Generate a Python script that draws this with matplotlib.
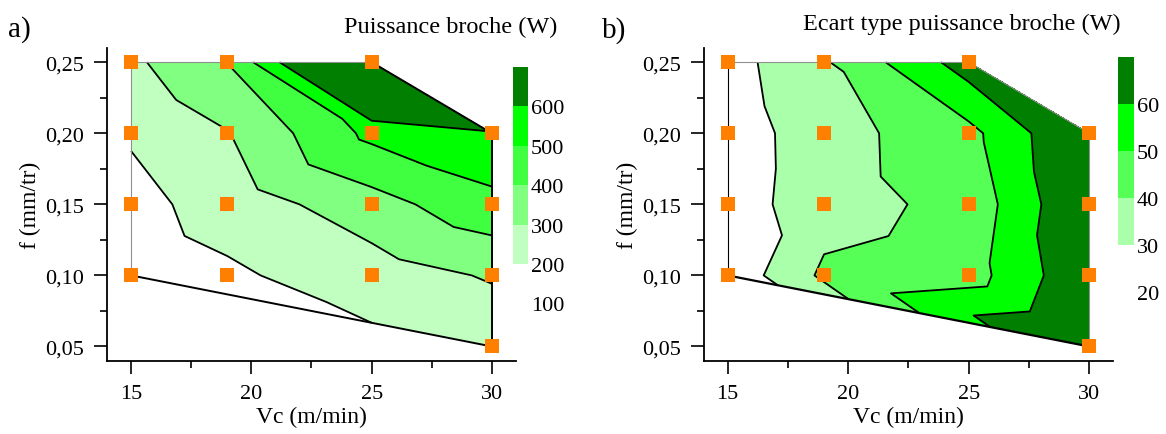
import matplotlib
matplotlib.use('Agg')
import matplotlib.pyplot as plt
import matplotlib.tri as mtri
from matplotlib.ticker import FuncFormatter, MultipleLocator

plt.rcParams['font.family'] = ['Liberation Serif', 'DejaVu Serif']
plt.rcParams['font.size'] = 16

# measurement points (Vc in m/min, f in mm/tr)
vc = [15, 15, 15, 15, 19, 19, 19, 19, 25, 25, 25, 25, 30, 30, 30, 30]
feed = [0.10, 0.15, 0.20, 0.25, 0.10, 0.15, 0.20, 0.25,
        0.10, 0.15, 0.20, 0.25, 0.05, 0.10, 0.15, 0.20]

# a) spindle power (W), b) std dev of spindle power (W)
power = [150, 170, 210, 280, 185, 240, 295, 402, 250, 360, 525, 950, 225, 310, 470, 590]
std_power = [22.9, 25.2, 24.5, 26.0, 41.9, 35.5, 35.7, 38.9,
             45.6, 43.3, 47.0, 65.0, 74.0, 68.7, 71.0, 72.0]

levels_a = [200, 300, 400, 500, 600, 700]
colors_a = ['#c0ffc0', '#80ff80', '#40ff40', '#00ff00', '#007f00']
cbar_ticks_a = [100, 200, 300, 400, 500, 600]

levels_b = [30, 40, 50, 60, 70]
colors_b = ['#aaffaa', '#55ff55', '#00ff00', '#007f00']
cbar_ticks_b = [20, 30, 40, 50, 60]

# boundary of the measured domain (indices into the point lists)
hull = [0, 3, 11, 15, 12, 0]
edge_style_a = [('#909090', 0.8), ('#909090', 0.8), ('black', 1.4), ('black', 1.4), ('black', 1.4)]
edge_style_b = [('black', 0.8), ('#909090', 0.8), ('#909090', 0.8), ('#909090', 0.8), ('black', 1.6)]

tri = mtri.Triangulation(vc, feed)

fig = plt.figure(figsize=(11.66, 4.35), dpi=100)


def comma(v, pos):
    return f"{v:.2f}".replace('.', ',')


def panel(rect, z, levels, colors, edges, title, title_x, title_y, letter, letter_xy):
    ax = fig.add_axes(rect)
    fill_levels = levels[:-1] + [max(z) * 1.2]
    ax.tricontourf(tri, z, levels=fill_levels, colors=colors, zorder=1)
    ax.tricontour(tri, z, levels=levels[:-1], colors='black', linewidths=1.3, zorder=2)
    for k in range(len(hull) - 1):
        i, j = hull[k], hull[k + 1]
        c, lw = edges[k]
        ax.plot([vc[i], vc[j]], [feed[i], feed[j]], color=c, lw=lw, zorder=3)
    ax.plot(vc, feed, 's', color='#ff8000', markersize=10, markeredgewidth=0,
            clip_on=False, zorder=5)

    ax.set_xlim(14, 31)
    ax.set_ylim(0.04, 0.26)
    ax.set_xticks([15, 20, 25, 30])
    ax.xaxis.set_minor_locator(MultipleLocator(2.5))
    ax.set_yticks([0.05, 0.10, 0.15, 0.20, 0.25])
    ax.yaxis.set_minor_locator(MultipleLocator(0.025))
    ax.yaxis.set_major_formatter(FuncFormatter(comma))
    ax.tick_params(which='major', direction='out', length=9.5, width=1.2, pad=7)
    ax.tick_params(which='minor', direction='out', length=5, width=1.2)
    for s in ['top', 'right']:
        ax.spines[s].set_visible(False)
    for s in ['left', 'bottom']:
        ax.spines[s].set_linewidth(1.3)
    ax.set_xlabel('Vc (m/min)', fontsize=17, labelpad=2)
    ax.set_ylabel('f (mm/tr)', fontsize=17, labelpad=3)
    fig.text(title_x, title_y, title, ha='right', va='center', fontsize=17.5)
    fig.text(letter_xy[0], letter_xy[1], letter, ha='left', va='center', fontsize=21)
    return ax


def colorbar(rect, levels, colors, ticks):
    cax = fig.add_axes(rect)
    for k in range(len(colors)):
        cax.bar(0, levels[k + 1] - levels[k], bottom=levels[k], width=1,
                color=colors[k], linewidth=0)
    cax.set_xlim(-0.5, 0.5)
    cax.set_ylim(ticks[0], levels[-1])
    cax.set_xticks([])
    cax.set_yticks(ticks)
    cax.yaxis.tick_right()
    cax.tick_params(axis='y', length=0, pad=2, labelsize=16)
    for s in cax.spines.values():
        s.set_visible(False)


panel([0.0918, 0.1685, 0.3507, 0.7189], power, levels_a, colors_a, edge_style_a,
      'Puissance broche (W)', 0.478, 0.938, 'a)', (0.007, 0.931))
colorbar([0.440, 0.3002, 0.0129, 0.5435], levels_a, colors_a, cbar_ticks_a)

panel([0.6034, 0.1685, 0.3514, 0.7189], std_power, levels_b, colors_b, edge_style_b,
      'Ecart type puissance broche (W)', 0.961, 0.943, 'b)', (0.516, 0.929))
colorbar([0.9588, 0.3264, 0.0137, 0.5403], levels_b, colors_b, cbar_ticks_b)

fig.savefig('out.png', dpi=100)
